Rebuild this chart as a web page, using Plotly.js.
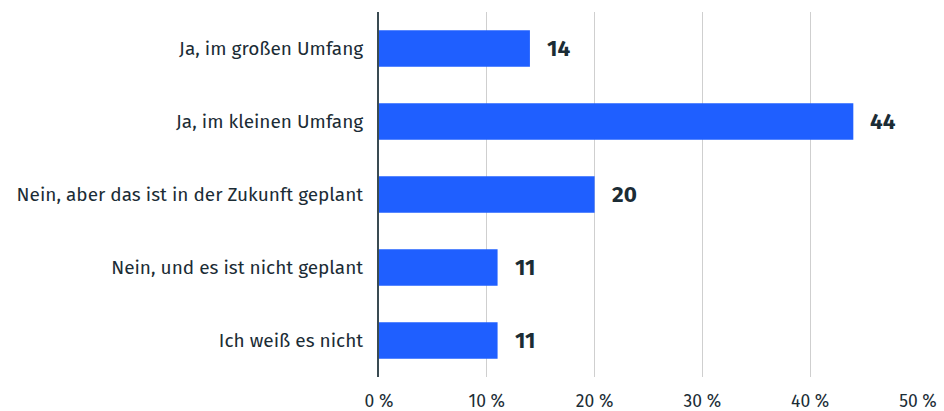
<!DOCTYPE html>
<html>
<head>
<meta charset="utf-8">
<script src="https://cdn.plot.ly/plotly-3.0.1.min.js"></script>
<style>html,body{margin:0;padding:0;background:#fff;}#chart{width:944px;height:411px;}</style>
</head>
<body>
<div id="chart"></div>
<script>
const categories = [
  "Ja, im großen Umfang",
  "Ja, im kleinen Umfang",
  "Nein, aber das ist in der Zukunft geplant",
  "Nein, und es ist nicht geplant",
  "Ich weiß es nicht"
];
const values = [14, 44, 20, 11, 11];
const tickValues = [0, 10, 20, 30, 40, 50];
const tickLabels = ["0 %", "10 %", "20 %", "30 %", "40 %", "50 %"];

const textColor = "#1b2c35";
const font = "Fira Sans, 'Open Sans', 'Noto Sans', sans-serif";

const trace = {
  type: "bar",
  orientation: "h",
  x: values,
  y: categories,
  marker: {color: "#1f5fff"},
  width: 0.5,
  hoverinfo: "none"
};

const annotations = values.map((v, i) => ({
  x: v, y: categories[i], xref: "x", yref: "y",
  text: "<b>" + v + "</b>", showarrow: false,
  xanchor: "left", xshift: 15,
  font: {family: font, size: 22.5, color: textColor}
}));

const layout = {
  width: 944, height: 411,
  margin: {l: 379, r: 26, t: 12, b: 34},
  paper_bgcolor: "#fff", plot_bgcolor: "#fff",
  showlegend: false,
  font: {family: font, size: 18, color: textColor},
  xaxis: {
    range: [0, 50], tickvals: tickValues, ticktext: tickLabels,
    showgrid: true, gridcolor: "#cfcfcf", gridwidth: 1,
    zeroline: false, showline: false, ticks: "",
    ticklabelstandoff: 11,
    tickfont: {family: font, size: 17.5, color: textColor},
    fixedrange: true
  },
  yaxis: {
    autorange: "reversed", showline: true, linecolor: "#3a4b52", linewidth: 2,
    showgrid: false, zeroline: false, ticks: "",
    ticklabelstandoff: 10,
    tickfont: {family: font, size: 19, color: textColor},
    fixedrange: true
  },
  annotations: annotations
};

Plotly.newPlot("chart", [trace], layout, {displayModeBar: false, staticPlot: true});
</script>
</body>
</html>
